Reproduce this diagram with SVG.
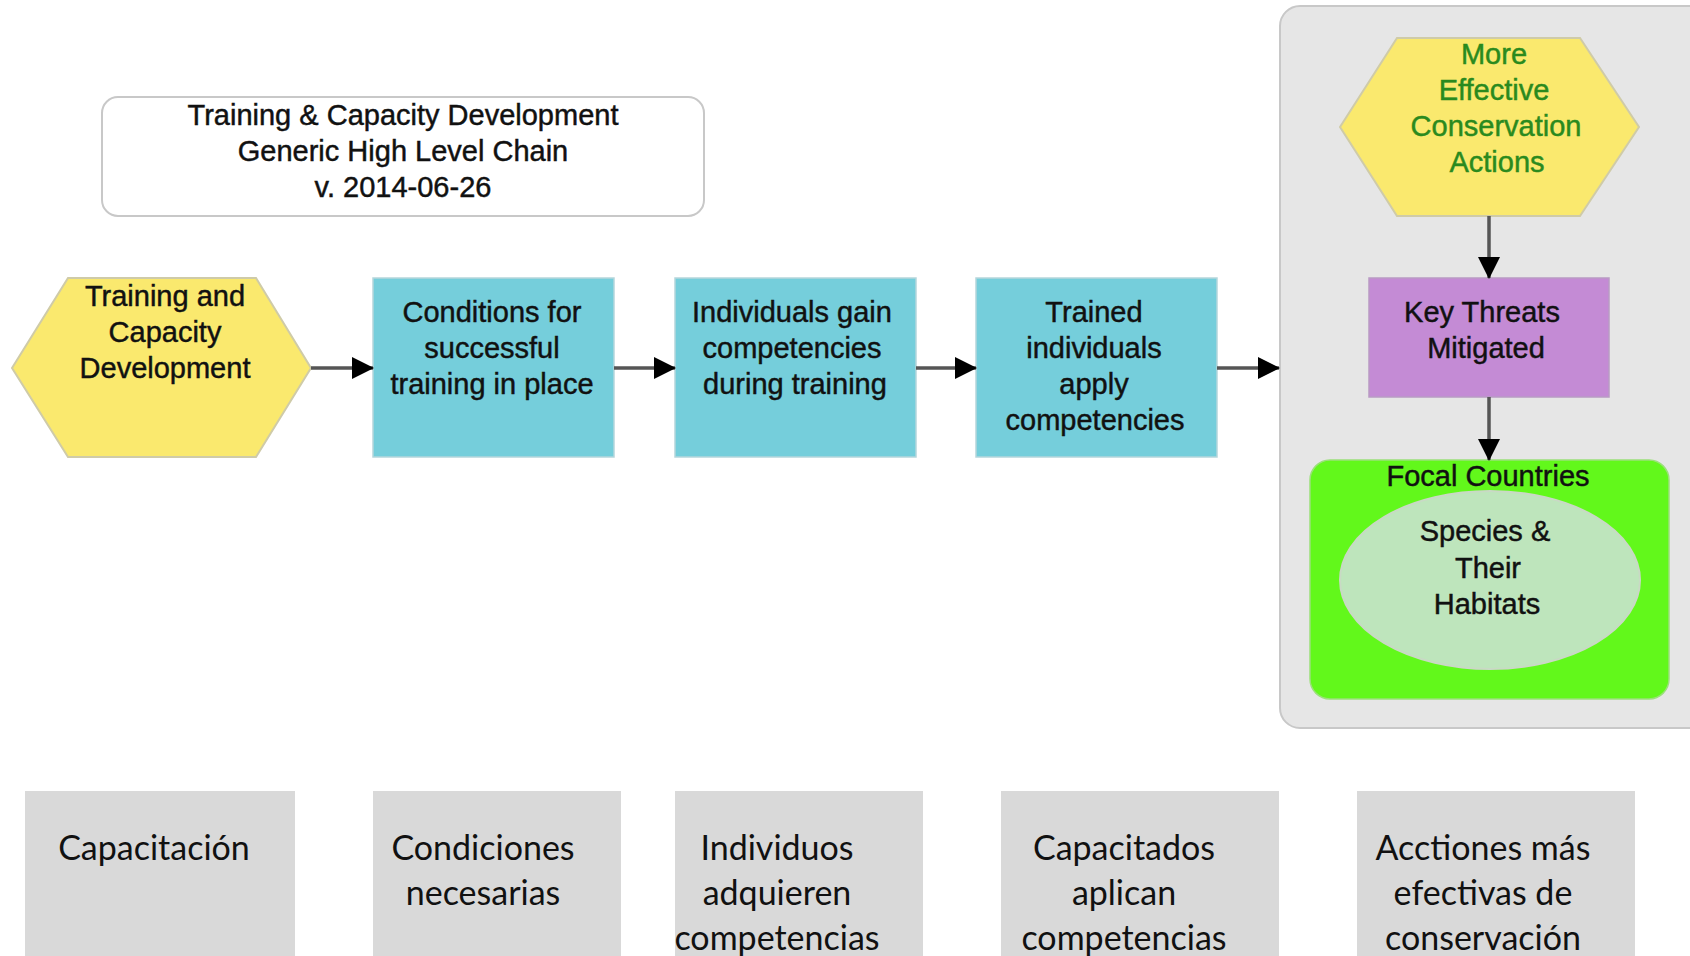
<svg xmlns="http://www.w3.org/2000/svg" width="1690" height="956" viewBox="0 0 1690 956">
<style>
.t{font-family:"Liberation Sans",Arial,sans-serif;font-size:29px;fill:#111;stroke:#111;stroke-width:0.45px;text-anchor:middle}
.g{fill:#2A8A1E;stroke:#2A8A1E}
.es{font-family:Lato,"Open Sans",sans-serif;font-size:34px;fill:#111;text-anchor:middle}
.hex{fill:#FAE96E;stroke:#CFCBA8;stroke-width:2}
.cy{fill:#75CEDB;stroke:#B5D6DC;stroke-width:1.5}
.gb{fill:#D9D9D9}
.conn{stroke:#555;stroke-width:3.5;fill:none;marker-end:url(#ah)}
</style>
<defs>
<marker id="ah" markerWidth="22" markerHeight="22" refX="21" refY="11" orient="auto" markerUnits="userSpaceOnUse"><path d="M0,0 L22,11 L0,22 Z" fill="#000"/></marker>
</defs>
<rect width="1690" height="956" fill="#fff"/>
<g id="title">
<rect x="102" y="97" width="602" height="119" rx="16" fill="#fff" stroke="#C8C8C8" stroke-width="2"/>
<text class="t" x="403" y="125">Training &amp; Capacity Development</text>
<text class="t" x="403" y="161">Generic High Level Chain</text>
<text class="t" x="403" y="197">v. 2014-06-26</text>
</g>
<g id="container">
<rect x="1280" y="6" width="440" height="722" rx="20" fill="#E6E6E6" stroke="#C8C8C8" stroke-width="2"/>
</g>
<g id="n-training">
<polygon class="hex" points="12,368 68,278 256,278 311,368 256,457 68,457"/>
<text class="t" x="165" y="306">Training and</text>
<text class="t" x="165" y="342">Capacity</text>
<text class="t" x="165" y="378">Development</text>
</g>
<g id="n-conditions">
<rect class="cy" x="373" y="278" width="241" height="179"/>
<text class="t" x="492" y="322">Conditions for</text>
<text class="t" x="492" y="358">successful</text>
<text class="t" x="492" y="394">training in place</text>
</g>
<g id="n-gain">
<rect class="cy" x="675" y="278" width="241" height="179"/>
<text class="t" x="792" y="322">Individuals gain</text>
<text class="t" x="792" y="358">competencies</text>
<text class="t" x="795" y="394">during training</text>
</g>
<g id="n-apply">
<rect class="cy" x="976" y="278" width="241" height="179"/>
<text class="t" x="1094" y="322">Trained</text>
<text class="t" x="1094" y="358">individuals</text>
<text class="t" x="1094" y="394">apply</text>
<text class="t" x="1095" y="430">competencies</text>
</g>
<g id="n-actions">
<polygon class="hex" points="1340,127 1397,38 1580,38 1639,127 1580,216 1397,216"/>
<text class="t g" x="1494" y="64">More</text>
<text class="t g" x="1494" y="100">Effective</text>
<text class="t g" x="1496" y="136">Conservation</text>
<text class="t g" x="1497" y="172">Actions</text>
</g>
<g id="n-threats">
<rect x="1369" y="278" width="240" height="119" fill="#C48BD5" stroke="#B99BC4" stroke-width="1.5"/>
<text class="t" x="1482" y="322">Key Threats</text>
<text class="t" x="1486" y="358">Mitigated</text>
</g>
<g id="n-focal">
<rect x="1310" y="460" width="359" height="239" rx="20" fill="#62F81B" stroke="#9BE07A" stroke-width="1.5"/>
<text class="t" x="1488" y="486">Focal Countries</text>
</g>
<g id="n-species">
<ellipse cx="1490" cy="580" rx="150" ry="89" fill="#BEE5BC" stroke="#C9D9C5" stroke-width="2"/>
<text class="t" x="1485" y="541">Species &amp;</text>
<text class="t" x="1488" y="578">Their</text>
<text class="t" x="1487" y="614">Habitats</text>
</g>
<g id="connectors">
<line class="conn" x1="311" y1="368" x2="373" y2="368"/>
<line class="conn" x1="614" y1="368" x2="675" y2="368"/>
<line class="conn" x1="916" y1="368" x2="976" y2="368"/>
<line class="conn" x1="1217" y1="368" x2="1279" y2="368"/>
<line class="conn" x1="1489" y1="216" x2="1489" y2="278"/>
<line class="conn" x1="1489" y1="397" x2="1489" y2="460"/>
</g>
<g id="es-1">
<rect class="gb" x="25" y="791" width="270" height="170"/>
<text class="es" x="154" y="860">Capacitación</text>
</g>
<g id="es-2">
<rect class="gb" x="373" y="791" width="248" height="170"/>
<text class="es" x="483" y="860">Condiciones</text>
<text class="es" x="483" y="905">necesarias</text>
</g>
<g id="es-3">
<rect class="gb" x="675" y="791" width="248" height="170"/>
<text class="es" x="777" y="860">Individuos</text>
<text class="es" x="777" y="905">adquieren</text>
<text class="es" x="777" y="950">competencias</text>
</g>
<g id="es-4">
<rect class="gb" x="1001" y="791" width="278" height="170"/>
<text class="es" x="1124" y="860">Capacitados</text>
<text class="es" x="1124" y="905">aplican</text>
<text class="es" x="1124" y="950">competencias</text>
</g>
<g id="es-5">
<rect class="gb" x="1357" y="791" width="278" height="170"/>
<text class="es" x="1483" y="860">Acctiones más</text>
<text class="es" x="1483" y="905">efectivas de</text>
<text class="es" x="1483" y="950">conservación</text>
</g>
</svg>
